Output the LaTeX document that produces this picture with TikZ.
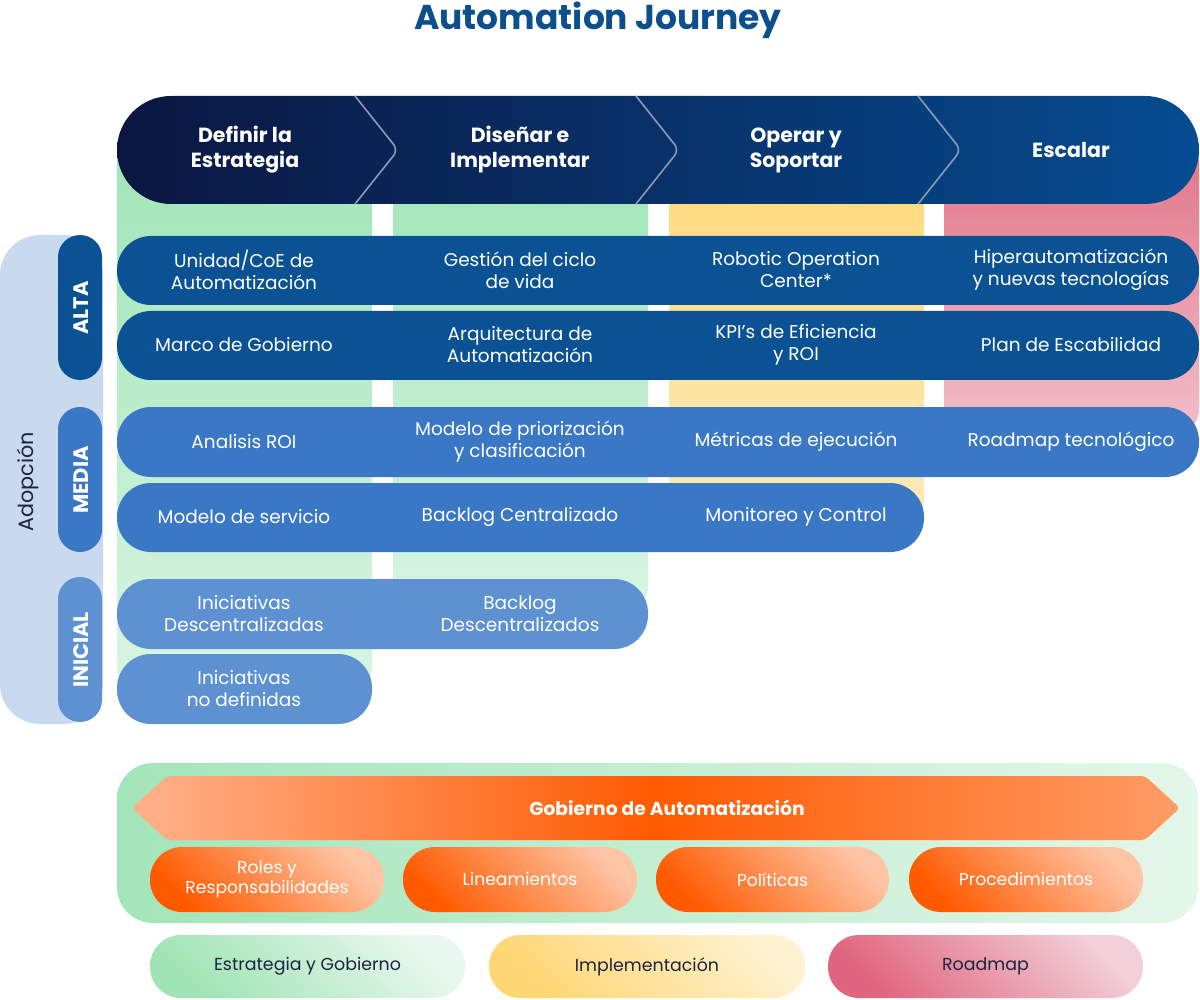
\documentclass[tikz,border=0pt]{standalone}
\usepackage{fontspec}
\setmainfont{Poppins}
\definecolor{titleblue}{HTML}{0B4F8C}
\definecolor{navyL}{HTML}{0A1640}
\definecolor{navyR}{HTML}{064C91}
\definecolor{chevline}{HTML}{8C9BB5}
\definecolor{gtop}{HTML}{9FE5B6}
\definecolor{gbot}{HTML}{D9F5E3}
\definecolor{ytop}{HTML}{FFD877}
\definecolor{ybot}{HTML}{FDEBBA}
\definecolor{ptop}{HTML}{E07488}
\definecolor{pbot}{HTML}{F3BECA}
\definecolor{alta}{HTML}{0A5294}
\definecolor{media}{HTML}{3A78C6}
\definecolor{inicial}{HTML}{5D91D1}
\definecolor{adopbg}{HTML}{C9D9EE}
\definecolor{darktext}{HTML}{1B2340}
\definecolor{orangeM}{HTML}{FF5A00}
\definecolor{peachL}{HTML}{FFB28C}
\definecolor{peachR}{HTML}{FF9C66}
\definecolor{peachT}{HTML}{FFC4A4}
\definecolor{boxL}{HTML}{A3E5BA}
\definecolor{boxR}{HTML}{E4F7EA}
\definecolor{legGa}{HTML}{A0E4B5}
\definecolor{legGb}{HTML}{E8F8EE}
\definecolor{legYa}{HTML}{FFD674}
\definecolor{legYb}{HTML}{FFF2CE}
\definecolor{legPa}{HTML}{E0657E}
\definecolor{legPb}{HTML}{F3D0D9}
\begin{document}
\begin{tikzpicture}[x=1pt,y=-1pt,
  titletext/.style={text=titleblue, font=\fontsize{34.5}{38}\selectfont\bfseries},
  headtext/.style={text=white, align=center, font=\fontsize{20.5}{25}\selectfont\bfseries},
  celltext/.style={text=white, align=center, font=\fontsize{18.5}{22}\selectfont},
  leveltext/.style={text=white, rotate=90, font=\fontsize{21}{22}\selectfont\bfseries},
  adoptext/.style={text=darktext, rotate=90, font=\fontsize{20.7}{22}\selectfont},
  bannertext/.style={text=white, font=\fontsize{18.7}{21}\selectfont\bfseries},
  govtext/.style={text=white, align=center, font=\fontsize{17.2}{19.5}\selectfont},
  legtext/.style={text=darktext, align=center, font=\fontsize{17.4}{20}\selectfont},
  chev/.style={draw=chevline, line width=1.6pt, rounded corners=7pt},
  govpill/.style={bottom color=orangeM, middle color=orangeM!92!peachT, top color=peachT, shading angle=-45, rounded corners=32pt},
]
\useasboundingbox (0,0) rectangle (1200,1000);

% title
\node[titletext] (title) at (598,20) {Automation Journey};

% columns
\shade[top color=gtop, bottom color=gbot, rounded corners=22pt] (117,140) rectangle (372,690);
\shade[top color=gtop, bottom color=gbot, rounded corners=22pt] (393,140) rectangle (648,610);
\shade[top color=ytop, bottom color=ybot, rounded corners=22pt] (669,140) rectangle (924,525);
\shade[top color=ptop, bottom color=pbot, rounded corners=22pt] (944,140) rectangle (1199,432);

% header band
\shade[left color=navyL, right color=navyR, rounded corners=54pt] (117,96) rectangle (1199,204);
\draw[chev] (355,96) -- (398,150) -- (355,204);
\draw[chev] (636,96) -- (679,150) -- (636,204);
\draw[chev] (918,96) -- (961,150) -- (918,204);
\node[headtext] (h1) at (245,150) {Definir la\\Estrategia};
\node[headtext] (h2) at (520,150) {Diseñar e\\Implementar};
\node[headtext] (h3) at (796,150) {Operar y\\Soportar};
\node[headtext] (h4) at (1071,150) {Escalar};

% adoption side
\fill[adopbg, rounded corners=40pt] (0,235) rectangle (103,724);
\node[adoptext] (adop) at (28,482) {Adopción};
\fill[alta, rounded corners=22pt] (58,235) rectangle (102,380);
\fill[media, rounded corners=22pt] (58,407) rectangle (102,552);
\fill[inicial, rounded corners=22pt] (58,577) rectangle (102,722);
\node[leveltext] (lalta) at (81,308) {ALTA};
\node[leveltext] (lmedia) at (81,480) {MEDIA};
\node[leveltext] (linicial) at (81,650) {INICIAL};

% rows
\fill[alta, rounded corners=34pt] (117,236) rectangle (1199,305);
\fill[alta, rounded corners=34pt] (117,311) rectangle (1199,380);
\fill[media, rounded corners=34pt] (117,407) rectangle (1199,477);
\fill[media, rounded corners=34pt] (117,483) rectangle (924,552);
\fill[inicial, rounded corners=34pt] (117,579) rectangle (648,649);
\fill[inicial, rounded corners=34pt] (117,654) rectangle (372,724);

\node[celltext] (c11) at (244,270) {Unidad/CoE de\\Automatización};
\node[celltext] (c12) at (520,270) {Gestión del ciclo\\de vida};
\node[celltext] (c13) at (796,270) {Robotic Operation\\Center*};
\node[celltext] (c14) at (1071,270) {Hiperautomatización\\y nuevas tecnologías};
\node[celltext] (c21) at (244,345) {Marco de Gobierno};
\node[celltext] (c22) at (520,345) {Arquitectura de\\Automatización};
\node[celltext] (c23) at (796,345) {KPI’s de Eficiencia\\y ROI};
\node[celltext] (c24) at (1071,345) {Plan de Escabilidad};
\node[celltext] (c31) at (244,442) {Analisis ROI};
\node[celltext] (c32) at (520,442) {Modelo de priorización\\y clasificación};
\node[celltext] (c33) at (796,442) {Métricas de ejecución};
\node[celltext] (c34) at (1071,442) {Roadmap tecnológico};
\node[celltext] (c41) at (244,517) {Modelo de servicio};
\node[celltext] (c42) at (520,517) {Backlog Centralizado};
\node[celltext] (c43) at (796,517) {Monitoreo y Control};
\node[celltext] (c51) at (244,614) {Iniciativas\\Descentralizadas};
\node[celltext] (c52) at (520,614) {Backlog\\Descentralizados};
\node[celltext] (c61) at (244,689) {Iniciativas\\no definidas};

% governance box
\shade[left color=boxL, right color=boxR, rounded corners=36pt] (117,763) rectangle (1198,923);
\shade[left color=peachL, right color=peachR, middle color=orangeM, rounded corners=4pt]
  (132,808) -- (167,776) -- (1145,776) -- (1180,808) -- (1145,840) -- (167,840) -- cycle;
\node[bannertext] (gov) at (667,808) {Gobierno de Automatización};
\shade[govpill] (150,847) rectangle (384,912);
\shade[govpill] (403,847) rectangle (637,912);
\shade[govpill] (656,847) rectangle (889,912);
\shade[govpill] (909,847) rectangle (1143,912);
\node[govtext] (g1) at (267,879.5) {Roles y\\Responsabilidades};
\node[govtext] (g2) at (520,879.5) {Lineamientos};
\node[govtext] (g3) at (772.5,879.5) {Políticas};
\node[govtext] (g4) at (1026,879.5) {Procedimientos};

% legend
\shade[bottom color=legGa, top color=legGb, shading angle=-45, rounded corners=31pt] (150,935) rectangle (465,998);
\shade[bottom color=legYa, top color=legYb, shading angle=-45, rounded corners=31pt] (489,935) rectangle (805,998);
\shade[bottom color=legPa, top color=legPb, shading angle=-45, rounded corners=31pt] (828,935) rectangle (1143,998);
\node[legtext] (l1) at (307.5,966.5) {Estrategia y Gobierno};
\node[legtext] (l2) at (647,966.5) {Implementación};
\node[legtext] (l3) at (985.5,966.5) {Roadmap};
\end{tikzpicture}
\end{document}
